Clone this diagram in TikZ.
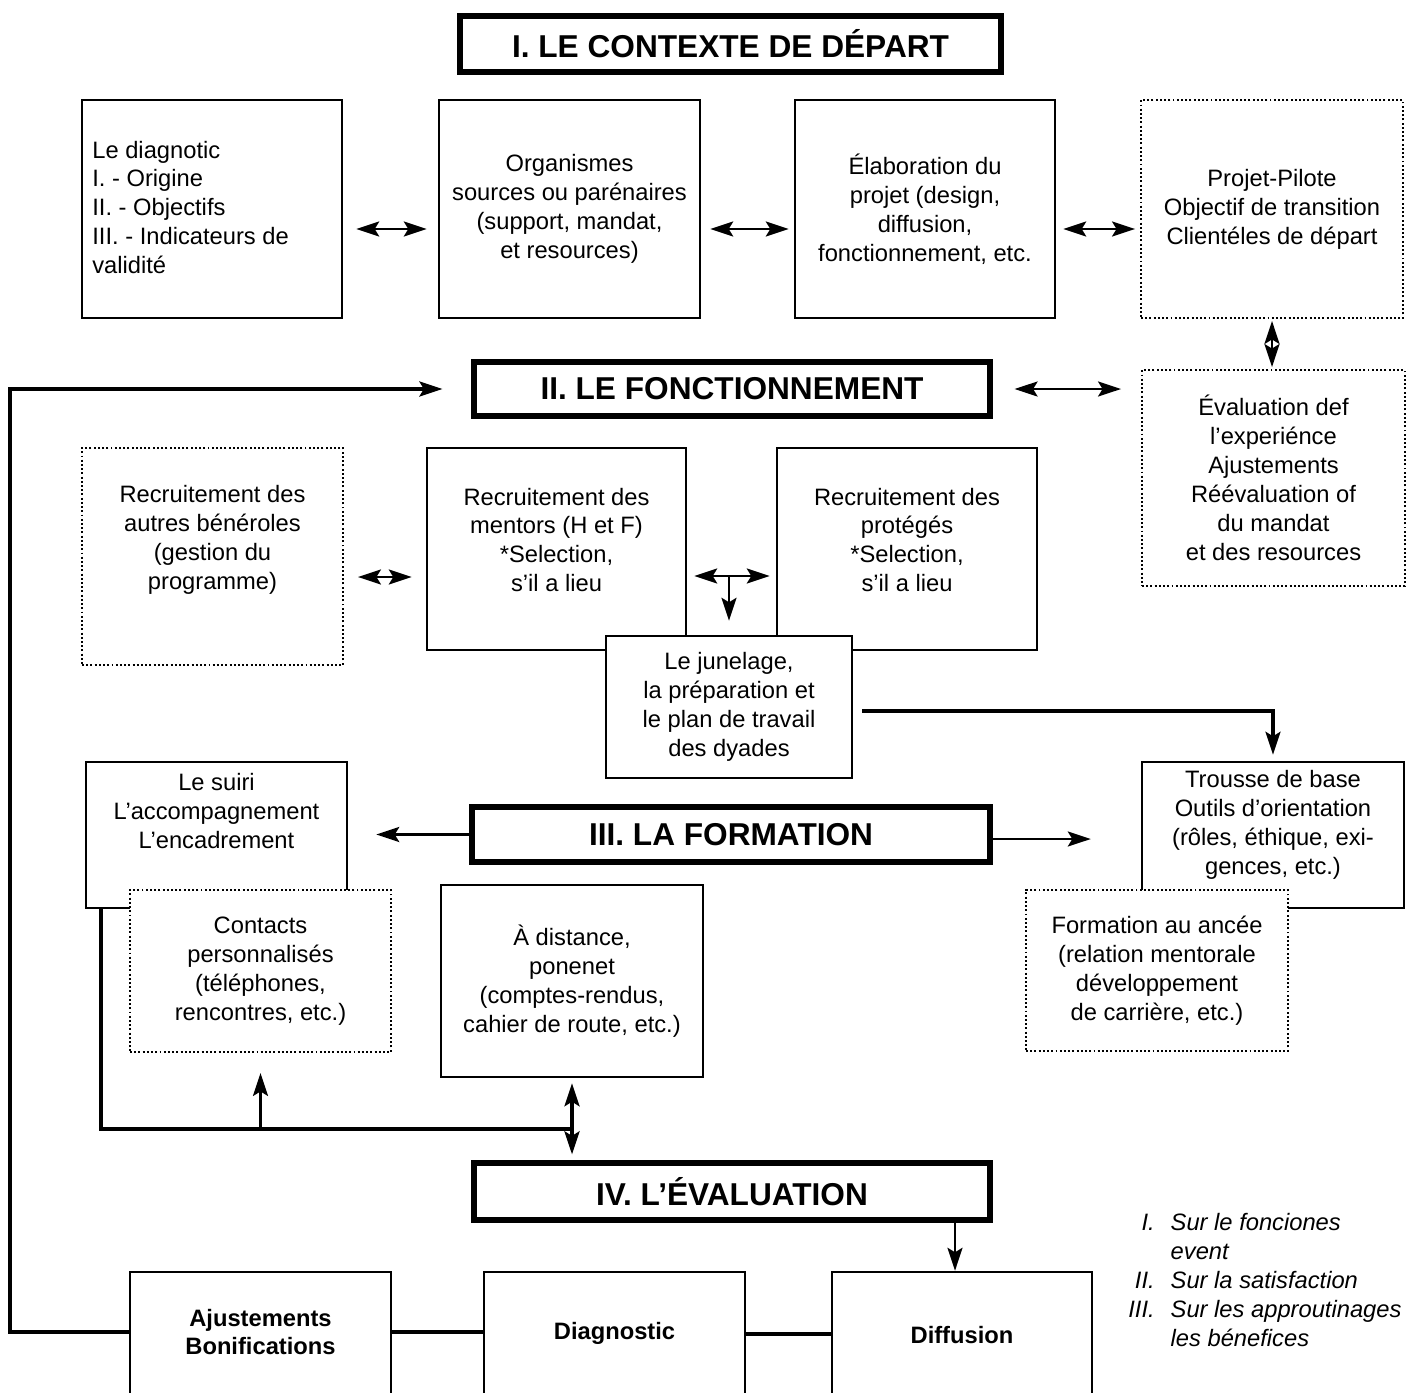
\documentclass[tikz,border=0pt]{standalone}
\usepackage{fontspec}
\setmainfont{Liberation Sans}
\usepackage{tikz}
\usetikzlibrary{arrows.meta}
\newcommand{\bodyfont}{\fontsize{13.5}{16.5}\selectfont}
\newcommand{\headfont}{\fontsize{18}{22}\selectfont\bfseries}
\tikzstyle{titlebox} = [rectangle, draw=black, line width=3pt, fill=white, font=\headfont]
\tikzstyle{box} = [rectangle, draw=black, line width=1.4pt, fill=white, align=center, font=\bodyfont]
\tikzstyle{dotbox} = [box, line width=1.1pt, dash pattern=on 1.1pt off 1.3pt]
\tikzstyle{txt} = [align=center, font=\bodyfont, inner sep=0pt]
\tikzstyle{arrow} = [line width=1.5pt, ->, >={Stealth[length=0.46cm, width=0.3cm, inset=0.09cm]}]
\tikzstyle{dblarrow} = [arrow, <->]
\tikzstyle{link} = [line width=2pt]

\begin{document}
\begin{tikzpicture}[x=0.02cm, y=-0.02cm]
  \clip (0,0) rectangle (1410,1393);
  \node(t1)[titlebox, minimum width=10.82cm, minimum height=1.12cm] at (730.5,44) {I. LE CONTEXTE DE DÉPART};
  \node(b1)[box, minimum width=5.2cm, minimum height=4.36cm] at (212,209) {};
  \node(b1text)[txt, anchor=west, align=left] at (92,207.5) {Le diagnotic\\I. - Origine\\II. - Objectifs\\III. - Indicateurs de\\validité};
  \node(b2)[box, minimum width=5.22cm, minimum height=4.36cm] at (569.5,209) {Organismes\\sources ou parénaires\\(support, mandat,\\et resources)};
  \node(b3)[box, minimum width=5.2cm, minimum height=4.36cm] at (925,209) {Élaboration du\\projet (design,\\diffusion,\\fonctionnement, etc.};
  \node(b4)[dotbox, minimum width=5.24cm, minimum height=4.36cm] at (1272,209) {Projet-Pilote\\Objectif de transition\\Clientéles de départ};
  \node(b5)[dotbox, minimum width=5.26cm, minimum height=4.32cm] at (1273.5,478) {Évaluation def\\l’experiénce\\Ajustements\\Réévaluation of\\du mandat\\et des resources};

  \node(t2)[titlebox, minimum width=10.32cm, minimum height=1.08cm] at (732,389) {II. LE FONCTIONNEMENT};
  \node(b6)[dotbox, minimum width=5.22cm, minimum height=4.34cm] at (212.5,556.5) {};
  \node(b6text)[txt] at (212.5,540) {Recruitement des\\autres bénéroles\\(gestion du\\programme)};
  \node(b7)[box, minimum width=5.18cm, minimum height=4.04cm] at (556.5,549) {};
  \node(b7text)[txt] at (556.5,540) {Recruitement des\\mentors (H et F)\\*Selection,\\s’il a lieu};
  \node(b8)[box, minimum width=5.2cm, minimum height=4.04cm] at (907,549) {};
  \node(b8text)[txt] at (907,540) {Recruitement des\\protégés\\*Selection,\\s’il a lieu};
  \node(b9)[box, minimum width=4.92cm, minimum height=2.84cm] at (729,707) {Le junelage,\\la préparation et\\le plan de travail\\des dyades};

  \node(t3)[titlebox, minimum width=10.36cm, minimum height=1.1cm] at (731,834.5) {III. LA FORMATION};
  \node(b10)[box, minimum width=5.22cm, minimum height=2.92cm] at (216.5,835) {};
  \node(b10text)[txt] at (216.5,811) {Le suiri\\L’accompagnement\\L’encadrement};
  \node(b11)[box, minimum width=5.24cm, minimum height=2.92cm] at (1273,835) {};
  \node(b11text)[txt] at (1273,825) {Trousse de base\\Outils d’orientation\\(rôles, éthique, exi-\\gences, etc.)};
  \node(b12)[dotbox, minimum width=5.22cm, minimum height=3.24cm] at (260.5,971) {Contacts\\personnalisés\\(téléphones,\\rencontres, etc.)};
  \node(b13)[box, minimum width=5.24cm, minimum height=3.84cm] at (572,981) {À distance,\\ponenet\\(comptes-rendus,\\cahier de route, etc.)};
  \node(b14)[dotbox, minimum width=5.24cm, minimum height=3.22cm] at (1157,970.5) {Formation au ancée\\(relation mentorale\\développement\\de carrière, etc.)};

  \node(t4)[titlebox, minimum width=10.32cm, minimum height=1.14cm] at (732,1191.5) {IV. L’ÉVALUATION};
  \node(b15)[box, minimum width=5.22cm, minimum height=2.96cm] at (260.5,1346) {};
  \node(b15text)[txt, font=\bodyfont\bfseries] at (260.5,1332) {Ajustements\\Bonifications};
  \node(b16)[box, minimum width=5.22cm, minimum height=2.96cm] at (614.5,1346) {};
  \node(b16text)[txt, font=\bodyfont\bfseries] at (614.5,1333) {Diagnostic};
  \node(b17)[box, minimum width=5.2cm, minimum height=2.96cm] at (962,1346) {};
  \node(b17text)[txt, font=\bodyfont\bfseries] at (962,1335) {Diffusion};
  \node(legend)[txt, anchor=north west, align=left, font=\bodyfont\itshape] at (1128,1210) {\begin{tabular}{@{}r@{\hspace{0.32cm}}l@{}}I. & Sur le fonciones\\ & event\\II. & Sur la satisfaction\\III. & Sur les approutinages\\ & les bénefices\end{tabular}};

  \draw[dblarrow, shorten <=0.26cm, shorten >=0.22cm] ([yshift=-0.4cm]b1.east) -- ([yshift=-0.4cm]b2.west);
  \draw[dblarrow, shorten <=0.18cm, shorten >=0.1cm] ([yshift=-0.4cm]b2.east) -- ([yshift=-0.4cm]b3.west);
  \draw[dblarrow, shorten <=0.14cm, shorten >=0.1cm] ([yshift=-0.4cm]b3.east) -- ([yshift=-0.4cm]b4.west);
  \draw[dblarrow, shorten <=0.04cm, shorten >=0.04cm] (b4.south) -- (b4.south |- b5.north);
  \draw[dblarrow, shorten <=0.44cm, shorten >=0.4cm] (t2.east) -- (t2.east -| b5.west);
  \draw[arrow, line width=2pt, shorten >=0.58cm] ([yshift=0.28cm]b15.west) -- ++(-119,0) |- (t2.west);
  \draw[dblarrow, shorten <=0.28cm, shorten >=0.28cm] ([yshift=-0.41cm]b6.east) -- ([yshift=-0.41cm]b6.east -| b7.west);
  \draw[dblarrow, shorten <=0.14cm, shorten >=0.12cm] ([yshift=-0.54cm]b7.east) -- ([yshift=-0.54cm]b8.west);
  \draw[arrow, shorten >=0.28cm] ([yshift=-0.54cm]b7.east -| b9.north) -- (b9.north);
  \draw[arrow, line width=1.8pt, shorten <=0.18cm, shorten >=0.12cm] ([yshift=-0.08cm]b9.east) -| (b11.north);
  \draw[arrow, line width=1.8pt, shorten >=0.56cm] (t3.west) -- (t3.west -| b10.east);
  \draw[arrow, shorten >=1cm] ([yshift=-0.09cm]t3.east) -- ([yshift=-0.09cm]t3.east -| b11.west);
  \draw[link] ([xshift=0.32cm]b10.south west) |- ([yshift=-1.02cm]b13.south);
  \draw[arrow, shorten >=0.4cm] ([yshift=-1.52cm]b12.south) -- (b12.south);
  \draw[dblarrow, line width=2pt, shorten <=0.1cm, shorten >=0.12cm] (b13.south) -- (b13.south |- t4.north);
  \draw[arrow] ([xshift=-0.14cm]b17.north |- t4.south) -- ([xshift=-0.14cm]b17.north);
  \draw[link] ([yshift=0.28cm]b15.east) -- ([yshift=0.28cm]b16.west);
  \draw[link] ([yshift=0.24cm]b16.east) -- ([yshift=0.24cm]b17.west);
\end{tikzpicture}
\end{document}
